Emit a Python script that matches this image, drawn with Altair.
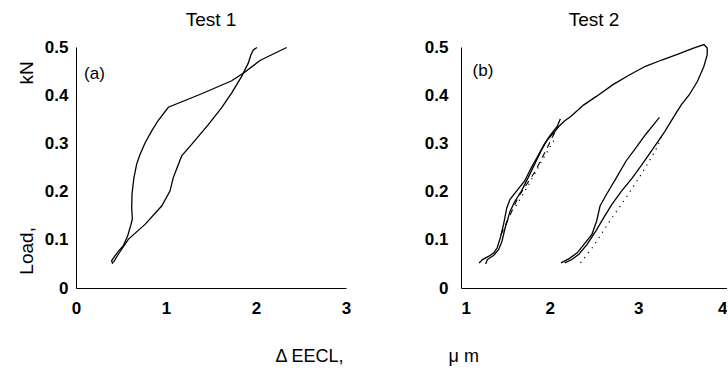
import altair as alt
import pandas as pd

FONT = "Liberation Sans"

# ---------------- Panel (a) : Test 1 ----------------
a1_x = [0.407, 0.396, 0.426, 0.470, 0.526, 0.574, 0.611, 0.626, 0.619, 0.622, 0.630, 0.644,
        0.674, 0.711, 0.767, 0.841, 0.915, 1.026, 1.396, 1.730, 1.878, 2.044, 2.174, 2.341]
a1_y = [0.050, 0.057, 0.065, 0.076, 0.088, 0.108, 0.132, 0.143, 0.167, 0.194, 0.208, 0.229,
        0.257, 0.277, 0.301, 0.326, 0.348, 0.375, 0.403, 0.430, 0.448, 0.472, 0.484, 0.499]

a2_x = [0.415, 0.470, 0.581, 0.767, 0.952, 1.044, 1.081, 1.174, 1.285, 1.470, 1.619, 1.730,
        1.841, 1.915, 1.944, 1.970, 2.011]
a2_y = [0.053, 0.070, 0.101, 0.132, 0.170, 0.201, 0.229, 0.274, 0.298, 0.339, 0.374, 0.405,
        0.439, 0.467, 0.484, 0.494, 0.499]

# ---------------- Panel (b) : Test 2 ----------------
b1_x = [1.205, 1.242, 1.315, 1.370, 1.407, 1.443, 1.480, 1.516, 1.553, 1.626, 1.718, 1.791,
        1.865, 1.938, 2.011, 2.085, 2.121]
b1_y = [0.052, 0.059, 0.066, 0.073, 0.083, 0.104, 0.132, 0.166, 0.184, 0.201, 0.222, 0.249,
        0.273, 0.298, 0.318, 0.335, 0.351]

b2_x = [1.278, 1.297, 1.370, 1.425, 1.462, 1.498, 1.553, 1.608, 1.681, 1.755, 1.828, 1.901,
        1.975, 2.047, 2.102, 2.170, 2.238, 2.385, 2.531, 2.714, 2.898, 3.080, 3.264, 3.447,
        3.630, 3.740, 3.777, 3.777, 3.740, 3.667, 3.575, 3.484, 3.392, 3.300, 3.170, 3.040,
        2.930, 2.810, 2.700, 2.610, 2.520, 2.420, 2.330, 2.250, 2.170]
b2_y = [0.050, 0.059, 0.068, 0.080, 0.097, 0.125, 0.159, 0.180, 0.201, 0.228, 0.256, 0.284,
        0.308, 0.322, 0.335, 0.347, 0.356, 0.380, 0.398, 0.422, 0.442, 0.460, 0.473, 0.485,
        0.498, 0.505, 0.498, 0.484, 0.460, 0.429, 0.401, 0.380, 0.353, 0.325, 0.290, 0.256,
        0.228, 0.201, 0.173, 0.146, 0.118, 0.090, 0.070, 0.059, 0.052]

b3_x = [2.128, 2.220, 2.310, 2.403, 2.476, 2.530, 2.568, 2.640, 2.750, 2.860, 2.970, 3.080,
        3.172, 3.238]
b3_y = [0.052, 0.061, 0.073, 0.094, 0.111, 0.139, 0.170, 0.194, 0.228, 0.263, 0.290, 0.318,
        0.339, 0.354]

b4_x = [1.45, 1.55, 1.65, 1.83, 1.97, 2.09]          # dashed
b4_y = [0.11, 0.15, 0.19, 0.24, 0.29, 0.335]

b5_x = [1.62, 1.75, 1.90, 2.06]                      # dotted (left bundle)
b5_y = [0.17, 0.21, 0.26, 0.31]

b6_x = [2.348, 2.495, 2.678, 2.860, 3.044, 3.190, 3.282]   # dotted (right bundle)
b6_y = [0.052, 0.087, 0.139, 0.187, 0.239, 0.284, 0.322]

y_ticks = [0, 0.1, 0.2, 0.3, 0.4, 0.5]
xa_ticks = [0, 1, 2, 3]
xb_ticks = [1, 2, 3, 4]

NB = "\u00a0"
y_title = "Load," + NB * 27 + "kN"
x_title = "\u0394 EECL," + NB * 21 + "\u03bc m"


def frame(series):
    rows = []
    for name, xs, ys in series:
        for i, (xv, yv) in enumerate(zip(xs, ys)):
            rows.append({"x": xv, "y": yv, "s": name, "i": i})
    return pd.DataFrame(rows)


def panel(solid, dashed, dotted, xdom, xticks, label, lx, ly, title, ytitle, lpad, width,
          flush):
    xs = alt.Scale(domain=xdom, nice=False, zero=False)
    ys = alt.Scale(domain=[0, 0.5], nice=False)
    xenc = alt.X("x:Q", scale=xs, axis=alt.Axis(values=xticks, format="d", title=None,
                                                labelPadding=12, labelFlush=flush))
    yaxis = alt.Axis(values=y_ticks, format=".1~f", labelPadding=lpad,
                     title=ytitle if ytitle else None, titlePadding=8)
    yenc = alt.Y("y:Q", scale=ys, axis=yaxis)
    layers = []
    layers.append(alt.Chart(frame(solid)).mark_line(color="black", strokeWidth=1.3)
                  .encode(x=xenc, y=yenc, detail="s:N", order="i:Q"))
    if dashed:
        layers.append(alt.Chart(frame(dashed)).mark_line(color="black", strokeWidth=1.1,
                                                         strokeDash=[6, 5])
                      .encode(x=xenc, y=yenc, detail="s:N", order="i:Q"))
    if dotted:
        layers.append(alt.Chart(frame(dotted)).mark_line(color="black", strokeWidth=1.2,
                                                         strokeDash=[1.2, 5])
                      .encode(x=xenc, y=yenc, detail="s:N", order="i:Q"))
    layers.append(alt.Chart(pd.DataFrame({"t": [label]})).mark_text(
        align="left", baseline="middle", font=FONT, fontSize=17, color="black")
        .encode(x=alt.datum(lx, scale=xs), y=alt.datum(ly, scale=ys), text="t:N"))
    return alt.layer(*layers).properties(
        width=width, height=241,
        title=alt.TitleParams(title, font=FONT, fontSize=19, fontWeight="normal",
                              color="black", anchor="middle", offset=8))


pa = panel([("a1", a1_x, a1_y), ("a2", a2_x, a2_y)], None, None,
           [0, 3], xa_ticks, "(a)", 0.09, 0.443, "Test 1", y_title, 8, 270, False)
pb = panel([("b1", b1_x, b1_y), ("b2", b2_x, b2_y), ("b3", b3_x, b3_y)],
           [("b4", b4_x, b4_y)], [("b5", b5_x, b5_y), ("b6", b6_x, b6_y)],
           [1, 4], xb_ticks, "(b)", 1.13, 0.45, "Test 2", None, 13, 266, True)

chart = alt.hconcat(pa, pb, spacing=115, bounds="flush").properties(
    title=alt.TitleParams(x_title, orient="bottom", anchor="middle", font=FONT, fontSize=18,
                          fontWeight="normal", color="black", offset=32, dx=5),
    padding={"left": 17, "top": 11, "right": 0, "bottom": 5},
    background="white",
).configure_view(stroke=None).configure_axis(
    domainColor="black", domainWidth=1, ticks=False, grid=False,
    labelFont=FONT, labelFontSize=17, labelFontWeight="bold", labelColor="black",
    titleFont=FONT, titleFontSize=19, titleFontWeight="normal", titleColor="black",
)

chart.save("out.html", embed_options={"renderer": "svg", "actions": False})
